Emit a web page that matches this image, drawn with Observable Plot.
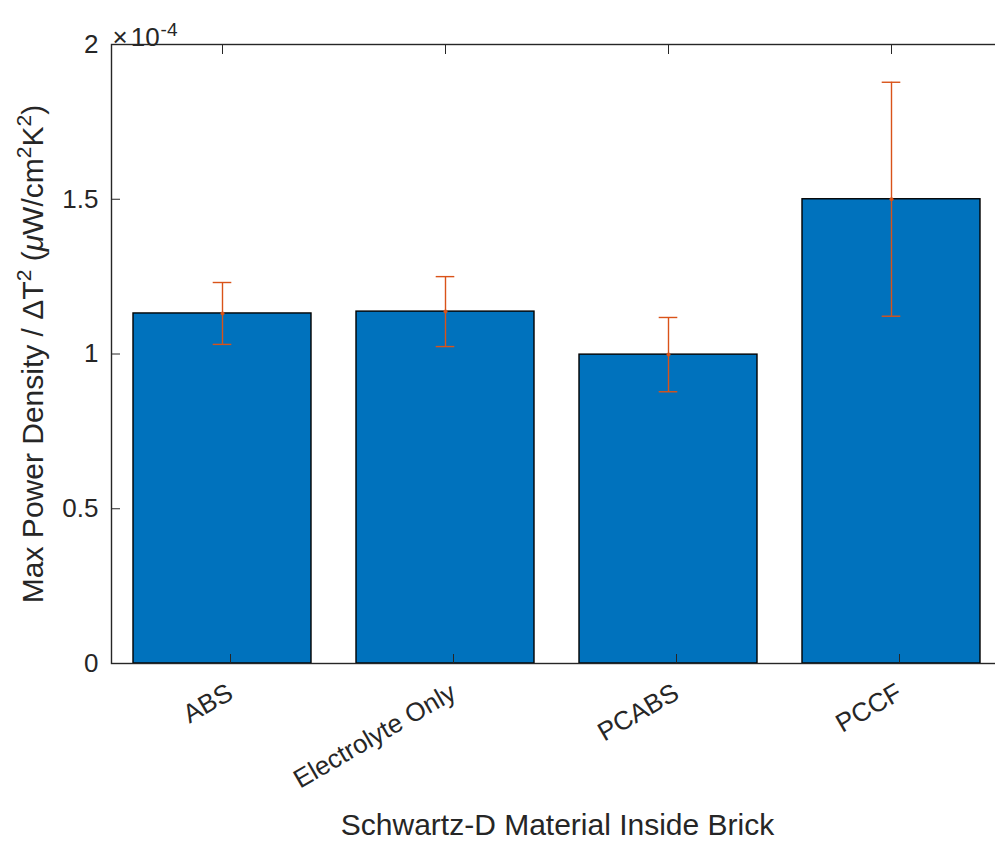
<!DOCTYPE html>
<html><head><meta charset="utf-8">
<script src="https://cdn.jsdelivr.net/npm/d3@7"></script>
<script src="https://cdn.jsdelivr.net/npm/@observablehq/plot@0.6"></script>
<style>
body{margin:0;background:#fff}
#chart{width:995px;height:845px;overflow:hidden;position:relative}
</style>
</head><body><div id="chart"></div>
<script>
const categories = ["ABS", "Electrolyte Only", "PCABS", "PCCF"];
const means = [1.131e-4, 1.137e-4, 0.998e-4, 1.500e-4];
const errors = [0.100e-4, 0.113e-4, 0.120e-4, 0.378e-4];
const yTicks = [0, 0.5e-4, 1e-4, 1.5e-4, 2e-4];
const xLabel = "Schwartz-D Material Inside Brick";
const yLabel = "Max Power Density / ΔT2 (μW/cm2K2)";

const data = categories.map((c, i) => ({cat: c, mean: means[i], lo: means[i] - errors[i], hi: means[i] + errors[i]}));

const font = "'Liberation Sans', Arial, Helvetica, sans-serif";
const ink = "#262626";
const errColor = "#D95319";
const fmt = d => String(Math.round(d * 1e5) / 10);

const plot = Plot.plot({
  width: 995, height: 845,
  marginLeft: 111, marginRight: -8, marginTop: 44, marginBottom: 182,
  style: {fontFamily: font, fontSize: "26px", color: ink, background: "white", overflow: "hidden"},
  x: {domain: categories, paddingInner: 0.2, paddingOuter: 0.1, axis: null},
  y: {domain: [0, 2e-4], axis: null},
  marks: [
    Plot.barY(data, {x: "cat", y: "mean", fill: "#0072BD", stroke: "#000", strokeWidth: 1.4}),
    Plot.ruleX(data, {x: "cat", y1: "lo", y2: "hi", stroke: errColor, strokeWidth: 1.4}),
    Plot.tickY(data, {x: "cat", y: "lo", stroke: errColor, strokeWidth: 1.4, inset: 79.7}),
    Plot.tickY(data, {x: "cat", y: "hi", stroke: errColor, strokeWidth: 1.4, inset: 79.7}),
    Plot.dot(data, {x: "cat", y: "mean", r: 2, fill: errColor}),
    Plot.frame({stroke: ink, strokeWidth: 1.4}),
    Plot.axisY({anchor: "left", ticks: yTicks, tickSize: -9, tickPadding: 22, tickFormat: fmt, label: null, fontSize: 26}),
    Plot.axisY({anchor: "right", ticks: yTicks, tickSize: -9, tickFormat: () => "", label: null}),
    Plot.axisX({anchor: "bottom", tickSize: -9, tickPadding: 36, dx: 8, tickRotate: -30, label: null, fontSize: 26, textAnchor: "end", lineAnchor: "middle"}),
    Plot.axisX({anchor: "top", tickSize: -9, tickFormat: () => "", label: null}),
    Plot.text([xLabel], {frameAnchor: "bottom", text: d => d, dy: 171, fontSize: 30, fill: ink, className: "xlab"}),
    Plot.text([yLabel], {frameAnchor: "left", text: d => d, dx: -78, rotate: -90, textAnchor: "middle", fontSize: 30, fill: ink, className: "ylab"}),
    Plot.text(["×10-4"], {frameAnchor: "top-left", text: d => d, dx: 1, dy: -17, textAnchor: "start", fontSize: 26, fill: ink, className: "explab"})
  ]
});
document.getElementById("chart").appendChild(plot);

// superscripts / TeX styling for labels
const svg = d3.select(plot);
svg.select(".ylab text").each(function() {
  const t = d3.select(this);
  t.text(null);
  const parts = [
    ["Max Power Density / ΔT", 0, null],
    ["2", -12, 21],
    [" (", 12, null],
    ["μ", 0, "italic"],
    ["W/cm", 0, null],
    ["2", -12, 21],
    ["K", 12, null],
    ["2", -12, 21],
    [")", 12, null]
  ];
  for (const [s, dy, opt] of parts) {
    const ts = t.append("tspan").text(s);
    if (dy) ts.attr("dy", dy);
    if (opt === "italic") ts.attr("font-style", "italic");
    else if (typeof opt === "number") ts.attr("font-size", opt);
  }
});
svg.select(".explab text").each(function() {
  const t = d3.select(this);
  t.text(null);
  t.append("tspan").text("×").attr("font-weight", 300);
  t.append("tspan").text("10").attr("dx", 3);
  t.append("tspan").text("-4").attr("dy", -10).attr("dx", 1).attr("font-size", 19);
});
</script>
</body></html>
